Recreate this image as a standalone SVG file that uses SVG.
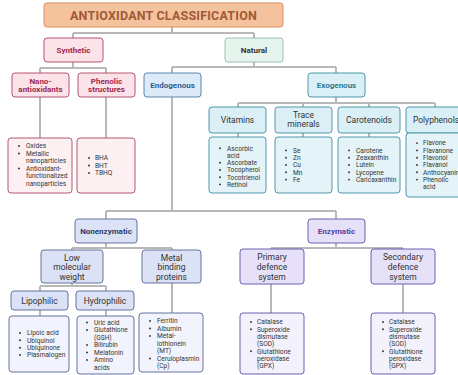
<svg xmlns="http://www.w3.org/2000/svg" width="458" height="375" viewBox="0 0 458 375">
<style>
text{font-family:Roboto,"Liberation Sans",sans-serif;fill:#333}
.b{stroke-width:1}
.hd{font-size:8px;font-weight:bold;text-anchor:middle}
.sb{font-size:8.5px;text-anchor:middle}
.li{font-size:6.6px}
.title{fill:#F4C29C;stroke:#D98E5E}
.ttl{font-size:12.5px;font-weight:bold;fill:#A05A38;text-anchor:middle;letter-spacing:0.2px}
.pk{fill:#FCE3EA;stroke:#B4566E}
.pkl{fill:#FDF0F3;stroke:#B4566E}
.pkt{fill:#A3284E}
.gn{fill:#E6F4EE;stroke:#9CC0B0}
.bl{fill:#DDEBF8;stroke:#5B86B0}
.blt{fill:#2D5F91}
.cy{fill:#DAF0F6;stroke:#4E98AC}
.cyl{fill:#E3F3F8;stroke:#4E98AC}
.cyt{fill:#2A7C90}
.nv{fill:#DCE2F5;stroke:#65739F}
.nvl{fill:#F1F4FC;stroke:#65739F}
.nvt{fill:#2B3A6E}
.pu{fill:#E6E1F8;stroke:#6E5EAE}
.pul{fill:#F3F1FC;stroke:#6E5EAE}
.put{fill:#56409E}
.dot{fill:#333}
#connectors path{fill:none;stroke:#B8B8B8;stroke-width:2}
</style>
<defs>
<circle id="bu" r="0.95" class="dot"/>
</defs>
<g id="connectors">
<path d="M172,27V33M73,33H254M73,33V38M254,33V38"/>
<path d="M73,62V68M40,68H106M40,68V73M106,68V73"/>
<path d="M40,97V138M106,97V138"/>
<path d="M254,62V67M172,67H336M172,67V73M336,67V73"/>
<path d="M172,97V211M106,211H336M106,211V219M336,211V219"/>
<path d="M336,97V103M238,103H435M238,103V107M303,103V107M369,103V107M435,103V107"/>
<path d="M238,133V137M303,133V137M369,133V137"/>
<path d="M106,243V248M72,248H172M72,248V250M172,248V250"/>
<path d="M72,283V286M40,286H106M40,286V291M106,286V291"/>
<path d="M40,310V316M106,310V316M172,283V313"/>
<path d="M336,243V248M271,248H403M271,248V249M403,248V249"/>
<path d="M271,284V313M403,284V313"/>
</g>
<g id="title"><rect class="title b" x="44" y="3" width="239" height="24" rx="3"/><text class="ttl" x="163.5" y="19.5">ANTIOXIDANT CLASSIFICATION</text></g>
<g id="synthetic"><rect class="pk b" x="44" y="38" width="59" height="24" rx="3"/><text class="hd pkt" x="73.5" y="52.8">Synthetic</text></g>
<g id="natural"><rect class="gn b" x="225" y="38" width="58" height="24" rx="3"/><text class="hd" x="254" y="52.8" style="font-weight:bold">Natural</text></g>
<g id="nano"><rect class="pk b" x="12" y="73" width="57" height="24" rx="3"/><text class="hd pkt" x="40.5" y="83.8">Nano-<tspan x="40.5" dy="8.5">antioxidants</tspan></text></g>
<g id="phenolic"><rect class="pk b" x="78" y="73" width="57" height="24" rx="3"/><text class="hd pkt" x="106.5" y="83.8">Phenolic<tspan x="106.5" dy="8.5">structures</tspan></text></g>
<g id="endogenous"><rect class="bl b" x="144" y="73" width="57" height="24" rx="3"/><text class="hd blt" x="172.5" y="87.8">Endogenous</text></g>
<g id="exogenous"><rect class="cy b" x="308" y="73" width="57" height="24" rx="3"/><text class="hd cyt" x="336.5" y="87.8">Exogenous</text></g>
<g id="nano-list"><rect class="pkl b" x="8" y="138" width="64" height="55" rx="3"/>
<use href="#bu" x="19" y="146"/><use href="#bu" x="19" y="153.5"/><use href="#bu" x="19" y="168.5"/>
<text class="li"><tspan x="26" y="148.3">Oxides</tspan><tspan x="26" y="155.8">Metallic</tspan><tspan x="26" y="163.3">nanoparticles</tspan><tspan x="26" y="170.8">Antioxidant-</tspan><tspan x="26" y="178.3">functionalized</tspan><tspan x="26" y="185.8">nanoparticles</tspan></text></g>
<g id="phenolic-list"><rect class="pkl b" x="77" y="138" width="58" height="55" rx="3"/>
<use href="#bu" x="89" y="158"/><use href="#bu" x="89" y="165.5"/><use href="#bu" x="89" y="173"/>
<text class="li"><tspan x="95" y="160.3">BHA</tspan><tspan x="95" y="167.8">BHT</tspan><tspan x="95" y="175.3">TBHQ</tspan></text></g>
<g id="vitamins"><rect class="cy b" x="209" y="107" width="57" height="26" rx="3"/><text class="sb" x="237.5" y="123">Vitamins</text></g>
<g id="trace"><rect class="cy b" x="275" y="107" width="57" height="26" rx="3"/><text class="sb" x="303.5" y="118">Trace<tspan x="303.5" dy="9">minerals</tspan></text></g>
<g id="carotenoids"><rect class="cy b" x="338" y="107" width="62" height="26" rx="3"/><text class="sb" x="369" y="123">Carotenoids</text></g>
<g id="polyphenols"><rect class="cy b" x="406" y="107" width="62" height="26" rx="3"/><text class="sb" x="436" y="123">Polyphenols</text></g>
<g id="vitamins-list"><rect class="cyl b" x="209" y="137" width="57" height="56" rx="3"/>
<use href="#bu" x="220" y="148.3"/><use href="#bu" x="220" y="162.7"/><use href="#bu" x="220" y="170"/><use href="#bu" x="220" y="177.2"/><use href="#bu" x="220" y="184.4"/>
<text class="li"><tspan x="227" y="150.6">Ascorbic</tspan><tspan x="227" y="157.8">acid</tspan><tspan x="227" y="165">Ascorbate</tspan><tspan x="227" y="172.3">Tocopherol</tspan><tspan x="227" y="179.5">Tocotrienol</tspan><tspan x="227" y="186.7">Retinol</tspan></text></g>
<g id="trace-list"><rect class="cyl b" x="275" y="137" width="57" height="56" rx="3"/>
<use href="#bu" x="286" y="150.4"/><use href="#bu" x="286" y="157.7"/><use href="#bu" x="286" y="165"/><use href="#bu" x="286" y="172.3"/><use href="#bu" x="286" y="179.6"/>
<text class="li"><tspan x="293" y="152.7">Se</tspan><tspan x="293" y="160">Zn</tspan><tspan x="293" y="167.3">Cu</tspan><tspan x="293" y="174.6">Mn</tspan><tspan x="293" y="181.9">Fe</tspan></text></g>
<g id="carotenoids-list"><rect class="cyl b" x="338" y="137" width="62" height="56" rx="3"/>
<use href="#bu" x="349" y="150.4"/><use href="#bu" x="349" y="157.7"/><use href="#bu" x="349" y="165"/><use href="#bu" x="349" y="172.3"/><use href="#bu" x="349" y="179.6"/>
<text class="li"><tspan x="356" y="152.7">Carotene</tspan><tspan x="356" y="160">Zeaxanthin</tspan><tspan x="356" y="167.3">Lutein</tspan><tspan x="356" y="174.6">Lycopene</tspan><tspan x="356" y="181.9">Caricaxanthin</tspan></text></g>
<g id="polyphenols-list"><rect class="cyl b" x="406" y="133" width="62" height="64" rx="3"/>
<use href="#bu" x="417" y="143.1"/><use href="#bu" x="417" y="150.4"/><use href="#bu" x="417" y="157.7"/><use href="#bu" x="417" y="165"/><use href="#bu" x="417" y="172.3"/><use href="#bu" x="417" y="179.6"/>
<text class="li"><tspan x="423" y="145.4">Flavone</tspan><tspan x="423" y="152.7">Flavanone</tspan><tspan x="423" y="160">Flavonol</tspan><tspan x="423" y="167.3">Flavanol</tspan><tspan x="423" y="174.6">Anthocyanins</tspan><tspan x="423" y="181.9">Phenolic</tspan><tspan x="423" y="189.2">acid</tspan></text></g>
<g id="nonenzymatic"><rect class="nv b" x="75" y="219" width="62" height="24" rx="3"/><text class="hd nvt" x="106" y="233.8">Nonenzymatic</text></g>
<g id="enzymatic"><rect class="pu b" x="308" y="219" width="57" height="24" rx="3"/><text class="hd put" x="336.5" y="233.8">Enzymatic</text></g>
<g id="low"><rect class="nv b" x="41" y="250" width="62" height="33" rx="3"/><text class="sb" x="72" y="260.8">Low<tspan x="72" dy="9.5">molecular</tspan><tspan x="72" dy="9.5">weight</tspan></text></g>
<g id="metal"><rect class="nv b" x="142" y="250" width="59" height="33" rx="3"/><text class="sb" x="171.5" y="260.8">Metal<tspan x="171.5" dy="9.5">binding</tspan><tspan x="171.5" dy="9.5">proteins</tspan></text></g>
<g id="lipophilic"><rect class="nv b" x="11" y="291" width="57" height="19" rx="3"/><text class="sb" x="39.5" y="303.5">Lipophilic</text></g>
<g id="hydrophilic"><rect class="nv b" x="76" y="291" width="58" height="19" rx="3"/><text class="sb" x="105" y="303.5">Hydrophilic</text></g>
<g id="lipophilic-list"><rect class="nvl b" x="9" y="316" width="60" height="56" rx="3"/>
<use href="#bu" x="20" y="333"/><use href="#bu" x="20" y="340.3"/><use href="#bu" x="20" y="347.7"/><use href="#bu" x="20" y="355"/>
<text class="li"><tspan x="27" y="335.3">Lipoic acid</tspan><tspan x="27" y="342.6">Ubiquinol</tspan><tspan x="27" y="350">Ubiquinone</tspan><tspan x="27" y="357.3">Plasmalogen</tspan></text></g>
<g id="hydrophilic-list"><rect class="nvl b" x="77" y="316" width="57" height="58" rx="3"/>
<use href="#bu" x="87" y="322.5"/><use href="#bu" x="87" y="330"/><use href="#bu" x="87" y="345"/><use href="#bu" x="87" y="352.5"/><use href="#bu" x="87" y="360"/>
<text class="li"><tspan x="94" y="324.8">Uric acid</tspan><tspan x="94" y="332.3">Glutathione</tspan><tspan x="94" y="339.8">(GSH)</tspan><tspan x="94" y="347.3">Bilirubin</tspan><tspan x="94" y="354.8">Melatonin</tspan><tspan x="94" y="362.3">Amino</tspan><tspan x="94" y="369.8">acids</tspan></text></g>
<g id="metal-list"><rect class="nvl b" x="139" y="313" width="64" height="59" rx="3"/>
<use href="#bu" x="150" y="321"/><use href="#bu" x="150" y="328.5"/><use href="#bu" x="150" y="336"/><use href="#bu" x="150" y="358.5"/>
<text class="li"><tspan x="157" y="323.3">Ferritin</tspan><tspan x="157" y="330.8">Albumin</tspan><tspan x="157" y="338.3">Metal-</tspan><tspan x="157" y="345.8">lothionein</tspan><tspan x="157" y="353.3">(MT)</tspan><tspan x="157" y="360.8">Ceruloplasmin</tspan><tspan x="157" y="368.3">(Cp)</tspan></text></g>
<g id="primary"><rect class="pu b" x="240" y="249" width="64" height="35" rx="3"/><text class="sb" x="272" y="260">Primary<tspan x="272" dy="9.8">defence</tspan><tspan x="272" dy="9.8">system</tspan></text></g>
<g id="secondary"><rect class="pu b" x="371" y="249" width="64" height="35" rx="3"/><text class="sb" x="403" y="260">Secondary<tspan x="403" dy="9.8">defence</tspan><tspan x="403" dy="9.8">system</tspan></text></g>
<g id="primary-list"><rect class="pul b" x="240" y="313" width="64" height="61" rx="3"/>
<use href="#bu" x="251" y="322"/><use href="#bu" x="251" y="329.3"/><use href="#bu" x="251" y="351.3"/>
<text class="li"><tspan x="257" y="324.3">Catalase</tspan><tspan x="257" y="331.6">Superoxide</tspan><tspan x="257" y="339">dismutase</tspan><tspan x="257" y="346.3">(SOD)</tspan><tspan x="257" y="353.6">Glutathione</tspan><tspan x="257" y="361">peroxidase</tspan><tspan x="257" y="368.3">(GPX)</tspan></text></g>
<g id="secondary-list"><rect class="pul b" x="371" y="313" width="64" height="61" rx="3"/>
<use href="#bu" x="383" y="322"/><use href="#bu" x="383" y="329.3"/><use href="#bu" x="383" y="351.3"/>
<text class="li"><tspan x="389" y="324.3">Catalase</tspan><tspan x="389" y="331.6">Superoxide</tspan><tspan x="389" y="339">dismutase</tspan><tspan x="389" y="346.3">(SOD)</tspan><tspan x="389" y="353.6">Glutathione</tspan><tspan x="389" y="361">peroxidase</tspan><tspan x="389" y="368.3">(GPX)</tspan></text></g>
</svg>
